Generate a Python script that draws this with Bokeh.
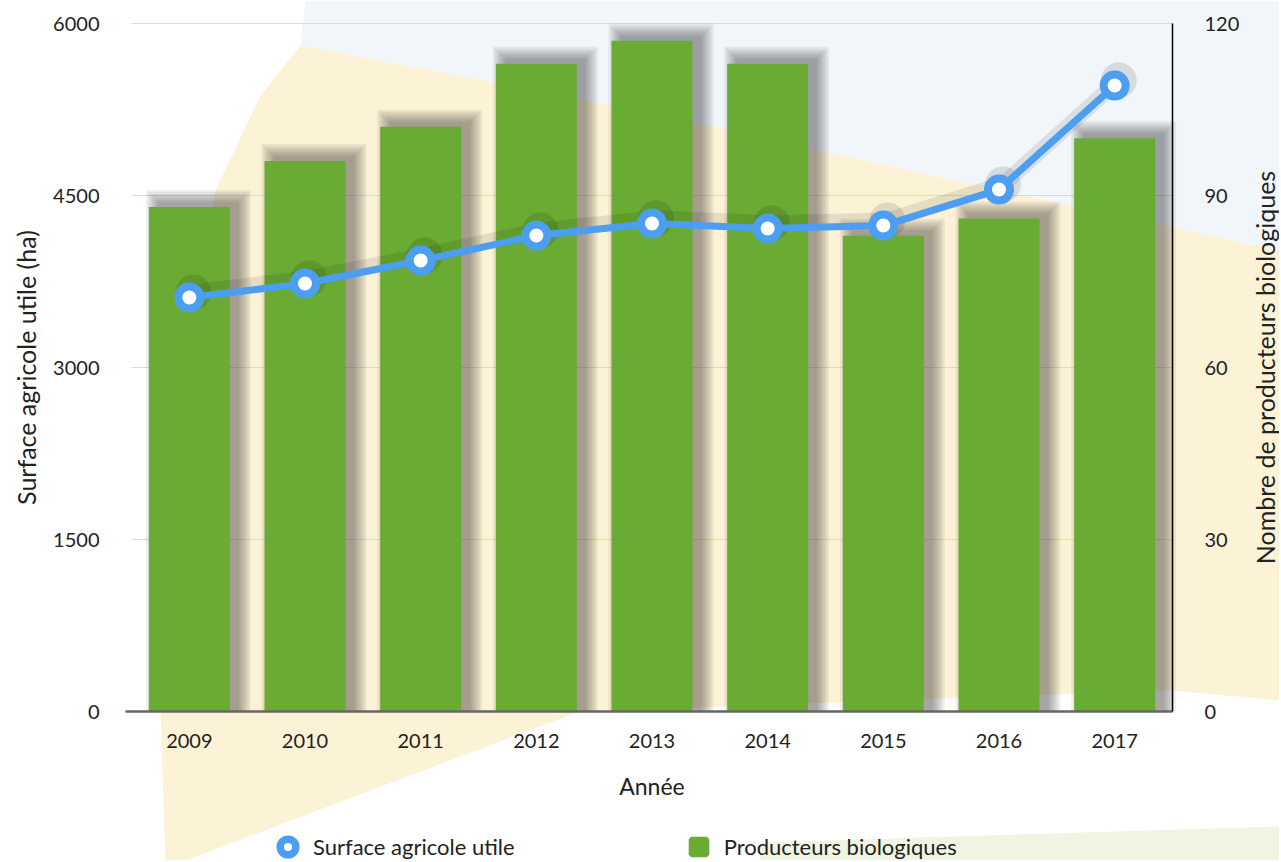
import math
from bokeh.plotting import figure
from bokeh.models import (Range1d, LinearAxis, FixedTicker, Legend, LegendItem,
                          PolyAnnotation, ColumnDataSource, Label)
from bokeh.embed import file_html
from bokeh.resources import INLINE

# ---- data ----
years = ["2009", "2010", "2011", "2012", "2013", "2014", "2015", "2016", "2017"]
surface_ha = [3610, 3733, 3933, 4151, 4256, 4212, 4238, 4552, 5459]
producteurs = [88, 96, 102, 113, 117, 113, 83, 86, 100]
left_ticks = [0, 1500, 3000, 4500, 6000]
right_ticks = [0, 30, 60, 90, 120]
left_max, right_max = 6000, 120

BLUE = "#4c9ef0"
GREEN = "#6aab33"
FONT = "Lato"
TXT = "#222222"

# ---- layout (pixels) ----
W, H = 1279, 860
F_LEFT, F_RIGHT, F_TOP, AXIS_Y = 131, 1172, 23, 711
n = len(years)
S = (F_RIGHT - F_LEFT) / n          # px per category slot
plot_h = AXIS_Y - F_TOP              # px for the value range

def px_to_x(px):
    return (px - F_LEFT) / S - 0.5

def py_to_left(py):
    return (AXIS_Y - py) * left_max / plot_h

def py_to_right(py):
    return (AXIS_Y - py) * right_max / plot_h

xpos = list(range(n))                # category slots

p = figure(width=W, height=H, x_range=Range1d(px_to_x(0), px_to_x(W)),
           y_range=Range1d(py_to_left(H), py_to_left(0)),
           output_backend="svg", toolbar_location=None,
           min_border_left=0, min_border_right=0, min_border_top=0, min_border_bottom=0)
p.extra_y_ranges = {"right": Range1d(py_to_right(H), py_to_right(0))}
p.outline_line_color = None
p.background_fill_color = "white"
p.border_fill_color = "white"
p.xgrid.visible = False
p.ygrid.visible = False

# ---- decorative background (canvas px) ----
def deco(xs, ys, color):
    p.add_layout(PolyAnnotation(xs=xs, ys=ys, xs_units="canvas", ys_units="canvas",
                                fill_color=color, fill_alpha=1.0, line_color=None,
                                level="image"))

deco([305, 1279, 1279, 1000, 640, 300], [0, 0, 250, 190, 110, 45], "#f1f6fb")
deco([300, 640, 1000, 1279, 1279, 1172, 579, 185, 165, 160, 165, 215, 260],
     [45, 110, 190, 250, 700, 690, 711, 860, 860, 711, 450, 190, 95], "#fcf2d6")
deco([760, 1279, 1279, 760], [842, 826, 860, 860], "#eff5e2")

# ---- axes ----
yl = p.yaxis[0]
yl.fixed_location = px_to_x(F_LEFT)
yl.ticker = FixedTicker(ticks=left_ticks)
yl.axis_line_color = None
yl.major_tick_line_color = None
yl.minor_tick_line_color = None
yl.major_label_standoff = 26

yr = LinearAxis(y_range_name="right", ticker=FixedTicker(ticks=right_ticks),
                bounds=(0, right_max), fixed_location=px_to_x(F_RIGHT))
yr.axis_line_color = "black"
yr.axis_line_width = 1.5
yr.major_tick_line_color = None
yr.minor_tick_line_color = None
yr.major_label_standoff = 26
p.add_layout(yr, "right")

xa = p.xaxis[0]
xa.fixed_location = 0
xa.bounds = (px_to_x(125), px_to_x(F_RIGHT))
xa.ticker = FixedTicker(ticks=xpos)
xa.major_label_overrides = {i: y for i, y in zip(xpos, years)}
xa.axis_line_color = "#666666"
xa.axis_line_width = 2.5
xa.major_tick_line_color = None
xa.minor_tick_line_color = None
xa.major_label_standoff = 16

for ax in (yl, yr, xa):
    ax.major_label_text_font = FONT
    ax.major_label_text_font_size = "20px"
    ax.major_label_text_color = TXT

# axis titles
title_style = dict(text_font=FONT, text_color=TXT, text_align="center", text_baseline="middle")
p.add_layout(Label(x=px_to_x(25), y=left_max / 2, text="Surface agricole utile (ha)",
                   angle=math.pi / 2, text_font_size="25px", **title_style))
p.add_layout(Label(x=px_to_x(1264), y=right_max / 2, y_range_name="right",
                   text="Nombre de producteurs biologiques",
                   angle=math.pi / 2, text_font_size="25px", **title_style))
p.add_layout(Label(x=(n - 1) / 2, y=py_to_left(785), text="Année",
                   text_font_size="23px", **title_style))

# horizontal grid lines at the left-axis ticks
p.segment(x0=[px_to_x(F_LEFT)] * len(left_ticks), x1=[px_to_x(F_RIGHT)] * len(left_ticks),
          y0=left_ticks, y1=left_ticks, line_color="#d6d6d6", line_width=1, line_alpha=0.9)

# ---- bars with soft drop shadow ----
px_per_unit = plot_h / right_max
bar_w = 0.70
src = ColumnDataSource(dict(x=xpos, top=producteurs, xs=[x + 9 / S for x in xpos]))
for i in range(7):
    grow = 2.0 * i
    key = "s%d" % i
    src.data[key] = [v + (5 + grow) / px_per_unit for v in producteurs]
    p.vbar(x="xs", top=key, bottom=0, width=bar_w + 2 * grow / S, source=src,
           y_range_name="right", fill_color="#1a1a1a", fill_alpha=0.065, line_color=None)
bars = p.vbar(x="x", top="top", bottom=0, width=bar_w, source=src, y_range_name="right",
              fill_color=GREEN, line_color=None)

# ---- line with markers ----
lsrc = ColumnDataSource(dict(x=xpos, y=surface_ha,
                             xs=[x + 4 / S for x in xpos], ys=[v + 45 for v in surface_ha]))
p.line(x="xs", y="ys", source=lsrc, line_color="black", line_alpha=0.09, line_width=16)
p.scatter(x="xs", y="ys", source=lsrc, size=36, fill_color="black", fill_alpha=0.11,
          line_color=None)
p.line(x="x", y="y", source=lsrc, line_color=BLUE, line_width=7)
markers = p.scatter(x="x", y="y", source=lsrc, size=22, fill_color="white",
                    line_color=BLUE, line_width=8)

# legend-only glyph proxies (hidden renderers, same data)
circle_proxy = p.scatter(x="x", y="y", source=lsrc, size=16, fill_color="white",
                         line_color=BLUE, line_width=7.5, visible=False)
square_proxy = p.scatter(x="x", y="top", source=src, marker="square", size=16,
                         fill_color=GREEN, line_color=GREEN, line_width=5,
                         y_range_name="right", visible=False)

# ---- legend (under the axis) ----
legend = Legend(items=[LegendItem(label="Surface agricole utile", renderers=[circle_proxy]),
                       LegendItem(label="Producteurs biologiques", renderers=[square_proxy])],
                location=(268, -6), orientation="horizontal", glyph_width=39, glyph_height=39,
                label_standoff=6, spacing=164, padding=0, margin=0,
                border_line_color=None, background_fill_alpha=0,
                label_text_font=FONT, label_text_font_size="22px", label_text_color=TXT)
p.add_layout(legend)

open("out.html", "w").write(file_html(p, INLINE))
